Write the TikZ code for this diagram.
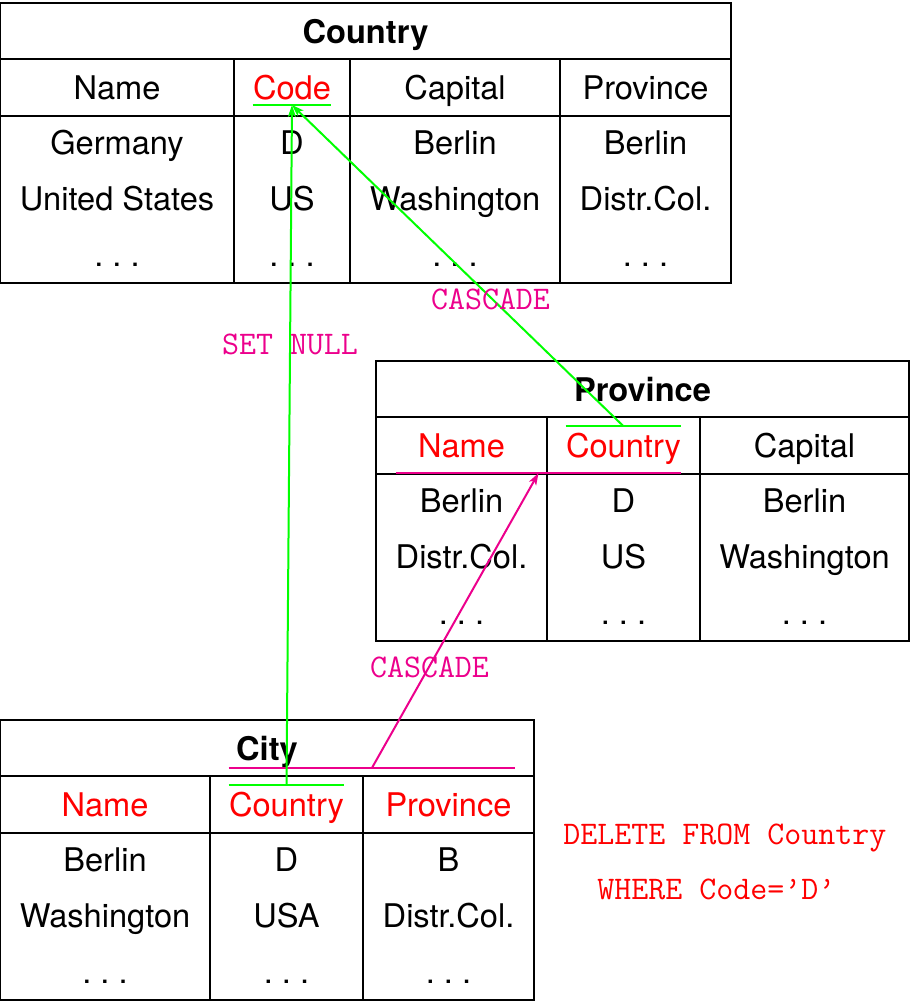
\documentclass[tikz,border=0pt]{standalone}
\usepackage{fontspec}
\setmainfont{TeX Gyre Heros}
\usetikzlibrary{arrows.meta}
\usetikzlibrary{calc}
\definecolor{setnull}{RGB}{0,255,0}
\definecolor{cascade}{RGB}{236,0,140}
\newcommand{\etcdots}{.\kern.28em.\kern.28em.}

\begin{document}
\begin{tikzpicture}[x=0.5pt,y=-0.5pt,
	txt/.style={font=\fontsize{16.3}{19}\selectfont, inner sep=0pt, anchor=base},
	head/.style={txt, font=\fontsize{16.3}{19}\selectfont\bfseries},
	key/.style={txt, text=red},
	tab/.style={line width=1.4pt},
	keyline/.style={line width=1pt},
	ref/.style={line width=1pt, -{Stealth[length=6pt,width=4pt,inset=1.5pt]}},
	rule/.style={font=\fontsize{16.5}{19}\selectfont\ttfamily, inner sep=0pt, anchor=base, text=cascade}]
	\useasboundingbox (0,0) rectangle (910,1002);

	% Country
	\draw[tab] (0,3) rectangle (731,283);
	\draw[tab] (0,59) -- (731,59) (0,116) -- (731,116);
	\foreach \x in {234,350,560} \draw[tab] (\x,59) -- (\x,283);
	\node[head] (co) at (365.5,43) {Country};
	\node[txt] (coName) at (117,99) {Name};
	\node[key] (coCode) at (292,99) {Code};
	\node[txt] (coCapital) at (455,99) {Capital};
	\node[txt] (coProvince) at (645.5,99) {Province};
	\foreach \a/\b/\c/\d [count=\r] in {Germany/D/Berlin/Berlin, United States/US/Washington/Distr.Col., \etcdots/\etcdots/\etcdots/\etcdots} {
		\node[txt] (coA\r) at (117,98+56*\r) {\a};
		\node[txt] (coB\r) at (292,98+56*\r) {\b};
		\node[txt] (coC\r) at (455,98+56*\r) {\c};
		\node[txt] (coD\r) at (645.5,98+56*\r) {\d};
	}

	% Province
	\draw[tab] (376,361) rectangle (909,641);
	\draw[tab] (376,417) -- (909,417) (376,474) -- (909,474);
	\foreach \x in {547,700} \draw[tab] (\x,417) -- (\x,641);
	\node[head] (pr) at (642.5,401) {Province};
	\node[key] (prName) at (461.5,457) {Name};
	\node[key] (prCountry) at (623.5,457) {Country};
	\node[txt] (prCapital) at (804.5,457) {Capital};
	\foreach \a/\b/\c [count=\r] in {Berlin/D/Berlin, Distr.Col./US/Washington, \etcdots/\etcdots/\etcdots} {
		\node[txt] (prA\r) at (461.5,456+56*\r) {\a};
		\node[txt] (prB\r) at (623.5,456+56*\r) {\b};
		\node[txt] (prC\r) at (804.5,456+56*\r) {\c};
	}

	% City
	\draw[tab] (0,720) rectangle (534,1000);
	\draw[tab] (0,776) -- (534,776) (0,833) -- (534,833);
	\foreach \x in {210,363} \draw[tab] (\x,776) -- (\x,1000);
	\node[head] (ci) at (267,760) {City};
	\node[key] (ciName) at (105,816) {Name};
	\node[key] (ciCountry) at (286.5,816) {Country};
	\node[key] (ciProvince) at (448.5,816) {Province};
	\foreach \a/\b/\c [count=\r] in {Berlin/D/B, Washington/USA/Distr.Col., \etcdots/\etcdots/\etcdots} {
		\node[txt] (ciA\r) at (105,815+56*\r) {\a};
		\node[txt] (ciB\r) at (286.5,815+56*\r) {\b};
		\node[txt] (ciC\r) at (448.5,815+56*\r) {\c};
	}

	% keys
	\draw[keyline,setnull] ($(coCode.base west)+(0,6)$) -- ($(coCode.base east)+(0,6)$);
	\coordinate (coCodeU) at ($(coCode.base)+(0,6)$);
	\draw[keyline,setnull] ($(prCountry.north west)+(0,-6)$) -- ($(prCountry.north east)+(0,-6)$);
	\coordinate (prCountryO) at ($(prCountry.north)+(0,-6)$);
	\draw[keyline,cascade] ($(prName.base west)+(-22,16)$) coordinate (prKeyA) -- ($(prCountry.base east)+(0,16)$) coordinate (prKeyB);
	\coordinate (prKeyU) at ($(prKeyA)!0.5!(prKeyB)$);
	\draw[keyline,setnull] ($(ciCountry.north west)+(0,-6)$) -- ($(ciCountry.north east)+(0,-6)$);
	\coordinate (ciCountryO) at ($(ciCountry.north)+(0,-6)$);
	\coordinate (ciKeyA) at ($(ciCountry.north west)+(0,-23)$);
	\coordinate (ciKeyB) at ($(ciKeyA -| ciProvince.east)+(3,0)$);
	\draw[keyline,cascade] (ciKeyA) -- (ciKeyB);
	\coordinate (ciKeyO) at ($(ciKeyA)!0.5!(ciKeyB)$);

	% references
	\draw[ref,setnull] (ciCountryO) -- (coCodeU);
	\draw[ref,setnull] (prCountryO) -- (coCodeU);
	\draw[ref,cascade] (ciKeyO) -- (prKeyU);

	\node[rule] (setNull) at (290,354) {SET NULL};
	\node[rule] (cascadeA) at (490.5,309) {CASCADE};
	\node[rule] (cascadeB) at (429.5,677) {CASCADE};

	\node[rule,text=red,anchor=base west] (stmtA) at (563,844) {DELETE FROM Country};
	\node[rule,text=red,anchor=base west] (stmtB) at (597,899) {WHERE Code=’D’};
\end{tikzpicture}
\end{document}
